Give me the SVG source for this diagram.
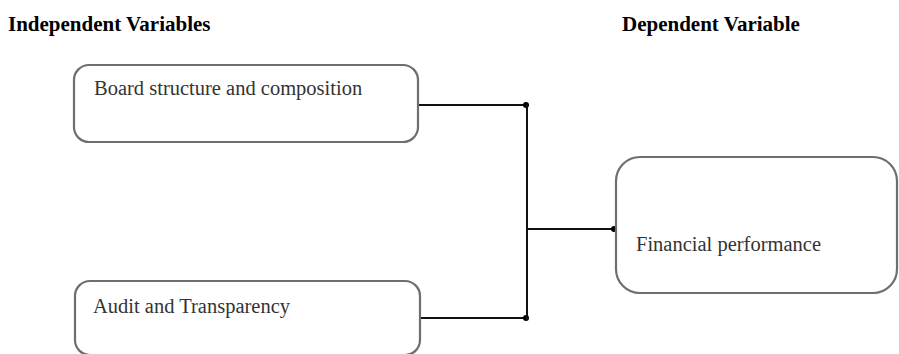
<svg xmlns="http://www.w3.org/2000/svg" width="899" height="354" viewBox="0 0 899 354">
<defs>
<style>
.hdr{font-family:"Liberation Serif","Times New Roman",serif;font-weight:bold;font-size:21px;fill:#000}
.box{fill:#fff;stroke:#6e6e6e;stroke-width:2.2}
.lbl{font-family:"Liberation Serif","Times New Roman",serif;font-size:20.5px;fill:#333}
.con{fill:none;stroke:#111;stroke-width:2}
</style>
<marker id="dot" viewBox="0 0 10 10" refX="5" refY="5" markerWidth="6" markerHeight="6" markerUnits="userSpaceOnUse"><circle cx="5" cy="5" r="5" fill="#000"/></marker>
</defs>
<rect width="899" height="354" fill="#fff"/>
<text class="hdr" x="8" y="31">Independent Variables</text>
<text class="hdr" x="622" y="31">Dependent Variable</text>
<g id="connectors">
<path class="con" d="M418 105 H526" marker-end="url(#dot)"/>
<path class="con" d="M420 318 H526" marker-end="url(#dot)"/>
<path class="con" d="M527 104 V320"/>
<path class="con" d="M527 229 H614" marker-end="url(#dot)"/>
</g>
<g id="board">
<rect class="box" x="74" y="65" width="344" height="77" rx="15"/>
<text class="lbl" x="94" y="95">Board structure and composition</text>
</g>
<g id="audit">
<rect class="box" x="75" y="281" width="345" height="74" rx="15"/>
<text class="lbl" x="93" y="313">Audit and Transparency</text>
</g>
<g id="financial">
<rect class="box" x="616" y="157" width="281" height="136" rx="24"/>
<text class="lbl" x="636" y="251">Financial performance</text>
</g>
</svg>
